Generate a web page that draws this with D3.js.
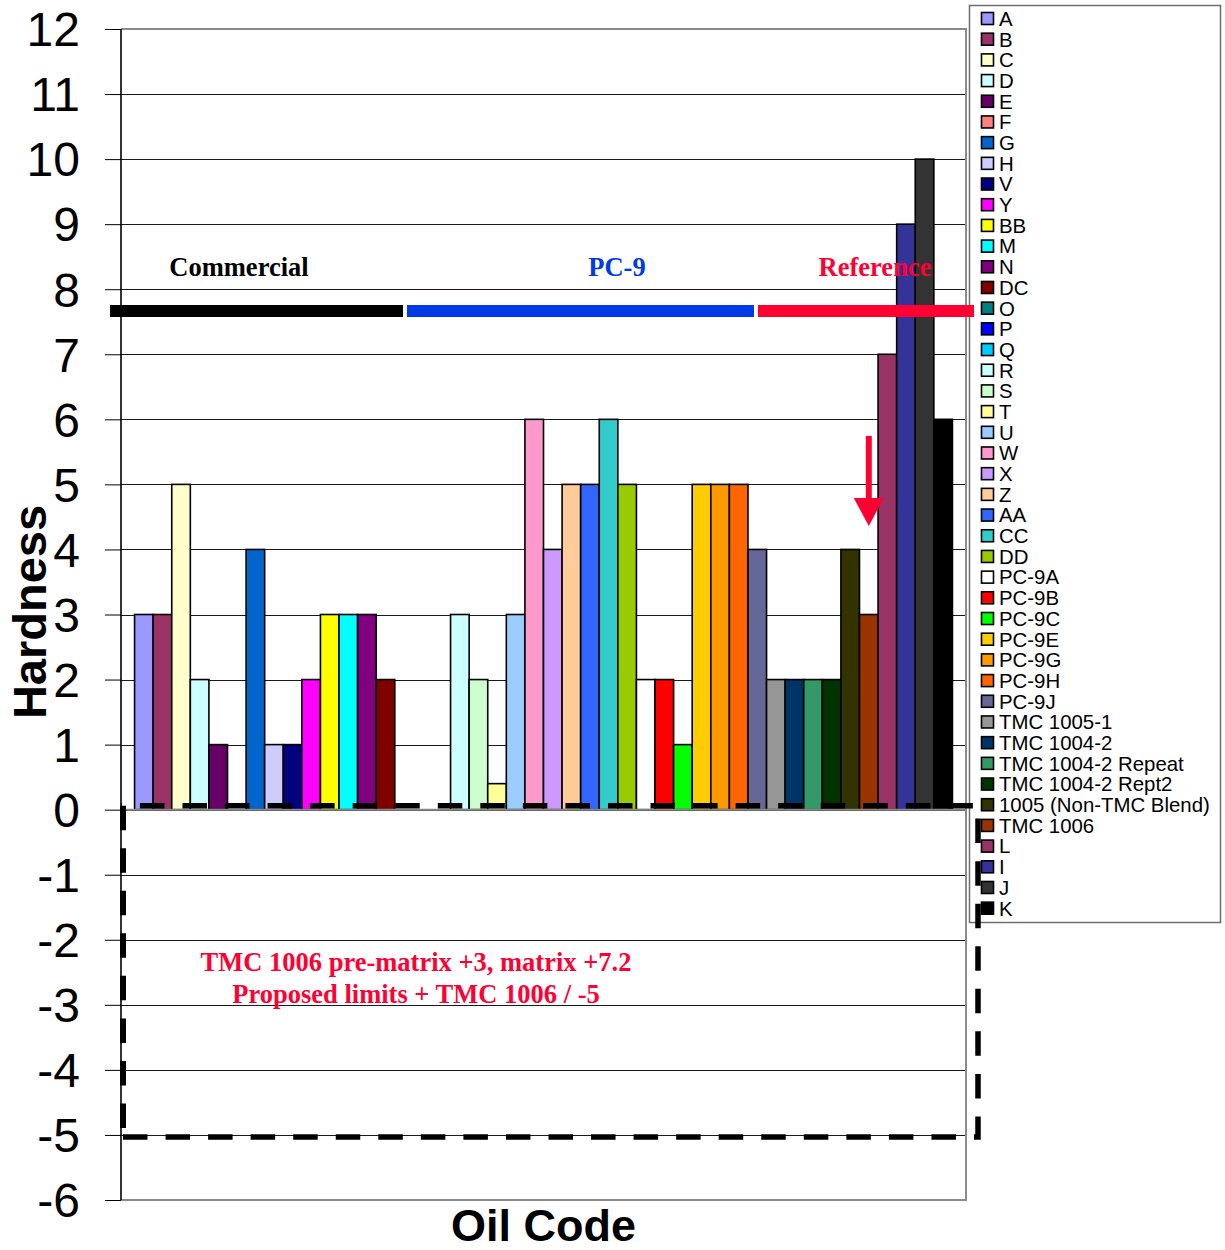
<!DOCTYPE html>
<html>
<head>
<meta charset="utf-8">
<script src="https://cdn.jsdelivr.net/npm/d3@7"></script>
<style>
  html, body { margin: 0; padding: 0; background: #fff; }
  svg { display: block; }
</style>
</head>
<body>
<svg id="chart" width="1225" height="1250"></svg>
<script>
// Oil codes, one bar each, in plotting order
const seriesNames = [
  "A", "B", "C", "D", "E", "F", "G", "H", "V", "Y", "BB", "M", "N", "DC",
  "O", "P", "Q", "R", "S", "T", "U", "W", "X", "Z", "AA", "CC", "DD",
  "PC-9A", "PC-9B", "PC-9C", "PC-9E", "PC-9G", "PC-9H", "PC-9J",
  "TMC 1005-1", "TMC 1004-2", "TMC 1004-2 Repeat", "TMC 1004-2 Rept2",
  "1005 (Non-TMC Blend)", "TMC 1006", "L", "I", "J", "K"
];

// Hardness for each oil code
const seriesValues = [
  3, 3, 5, 2, 1, 0, 4, 1, 1, 2, 3, 3, 3, 2,
  0, 0, 0, 3, 2, 0.4, 3, 6, 4, 5, 5, 6, 5,
  2, 2, 1, 5, 5, 5, 4,
  2, 2, 2, 2,
  4, 3, 7, 9, 10, 6
];

// Fill colour of each oil code
const seriesColors = [
  "#9999FF", "#993366", "#FFFFCC", "#CCFFFF", "#660066", "#FF8080", "#0066CC",
  "#CCCCFF", "#000080", "#FF00FF", "#FFFF00", "#00FFFF", "#800080", "#800000",
  "#008080", "#0000FF", "#00CCFF", "#CCFFFF", "#CCFFCC", "#FFFF99", "#99CCFF",
  "#FF99CC", "#CC99FF", "#FFCC99", "#3366FF", "#33CCCC", "#99CC00",
  "#FFFFFF", "#FF0000", "#00FF00", "#FFCC00", "#FF9900", "#FF6600", "#666699",
  "#969696", "#003366", "#339966", "#003300",
  "#333300", "#993300", "#993366", "#333399", "#333333", "#000000"
];

// Value-axis ticks
const yTicks = [-6, -5, -4, -3, -2, -1, 0, 1, 2, 3, 4, 5, 6, 7, 8, 9, 10, 11, 12];

// Group headings above the bars
const groupLabels = ["Commercial", "PC-9", "Reference"];
const groupColors = ["#000000", "#0039E6", "#FF0033"];

// Limit box and its notes
const limitLow = -5;
const limitHigh = 0;
const noteLines = [
  "TMC 1006 pre-matrix +3, matrix +7.2",
  "Proposed limits + TMC 1006 / -5"
];

const svg = d3.select("#chart");
const plot = { left: 121, right: 966, top: 29, bottom: 1200 };

const y = d3.scaleLinear()
  .domain([d3.min(yTicks), d3.max(yTicks)])
  .range([plot.bottom, plot.top]);

const x = d3.scaleBand()
  .domain(seriesNames)
  .range([plot.left, plot.right])
  .paddingInner(0)
  .paddingOuter(0.73);

const sans = "'Liberation Sans', Arial, Helvetica, sans-serif";
const serif = "'Liberation Serif', 'Times New Roman', Times, serif";

// horizontal gridlines
svg.append("g")
  .selectAll("line")
  .data(yTicks)
  .join("line")
  .attr("x1", plot.left).attr("x2", plot.right)
  .attr("y1", d => Math.round(y(d)) + 0.5)
  .attr("y2", d => Math.round(y(d)) + 0.5)
  .attr("stroke", "#1a1a1a")
  .attr("stroke-width", 1);

// plot-area border (top, right, bottom)
svg.append("path")
  .attr("d", `M${plot.left},${plot.top} H${plot.right} V${plot.bottom} H${plot.left}`)
  .attr("fill", "none")
  .attr("stroke", "#8a8a8a")
  .attr("stroke-width", 2);

// bars
const rows = seriesNames.map((name, i) => ({ name, value: seriesValues[i], color: seriesColors[i] }));
svg.append("g")
  .selectAll("rect")
  .data(rows.filter(d => d.value !== 0))
  .join("rect")
  .attr("x", d => x(d.name))
  .attr("width", x.bandwidth())
  .attr("y", d => y(Math.max(0, d.value)))
  .attr("height", d => Math.abs(y(d.value) - y(0)))
  .attr("fill", d => d.color)
  .attr("stroke", "#000")
  .attr("stroke-width", 1.6);

// category axis line at zero
svg.append("line")
  .attr("x1", plot.left).attr("x2", plot.right)
  .attr("y1", y(0)).attr("y2", y(0))
  .attr("stroke", "#8a8a8a")
  .attr("stroke-width", 2);

// value axis, plain hyphen for negatives
const yAxis = svg.append("g")
  .attr("transform", `translate(${plot.left},0)`)
  .call(d3.axisLeft(y).tickValues(yTicks).tickSize(16).tickPadding(25).tickFormat(d => String(d)));
yAxis.select(".domain")
  .attr("d", `M0,${plot.top}V${plot.bottom}`)
  .attr("stroke", "#000")
  .attr("stroke-width", 1.6);
yAxis.selectAll(".tick line").attr("stroke", "#000").attr("stroke-width", 1);
yAxis.selectAll(".tick text")
  .attr("font-family", sans)
  .attr("font-size", 48)
  .attr("fill", "#000")
  .attr("dy", "0.35em");

// axis titles
svg.append("text")
  .attr("transform", "translate(46,612) rotate(-90)")
  .attr("text-anchor", "middle")
  .attr("font-family", sans)
  .attr("font-weight", "bold")
  .attr("font-size", 47)
  .text("Hardness");

svg.append("text")
  .attr("x", (plot.left + plot.right) / 2)
  .attr("y", 1241)
  .attr("text-anchor", "middle")
  .attr("font-family", sans)
  .attr("font-weight", "bold")
  .attr("font-size", 45)
  .text("Oil Code");

// legend
const legend = svg.append("g");
legend.append("rect")
  .attr("x", 969.5).attr("y", 5.5)
  .attr("width", 251).attr("height", 917)
  .attr("fill", "#fff")
  .attr("stroke", "#6e6e6e")
  .attr("stroke-width", 1.5);
const step = 20.69;
const items = legend.selectAll("g.item")
  .data(rows)
  .join("g")
  .attr("class", "item")
  .attr("transform", (d, i) => `translate(0,${18.5 + i * step})`);
items.append("rect")
  .attr("x", 981.5).attr("y", -6)
  .attr("width", 12).attr("height", 12)
  .attr("fill", d => d.color)
  .attr("stroke", "#000")
  .attr("stroke-width", 1.6);
items.append("text")
  .attr("x", 999)
  .attr("y", 0)
  .attr("dy", "0.36em")
  .attr("font-family", sans)
  .attr("font-size", 20.4)
  .attr("fill", "#000")
  .text(d => d.name);

// group bands and headings
const bandY = 311;
const bands = [[110, 403], [407, 754], [758, 974]];
svg.append("g")
  .selectAll("line")
  .data(bands)
  .join("line")
  .attr("x1", d => d[0]).attr("x2", d => d[1])
  .attr("y1", bandY).attr("y2", bandY)
  .attr("stroke", (d, i) => groupColors[i])
  .attr("stroke-width", 12);

const labelX = [239, 617, 875];
svg.append("g")
  .selectAll("text")
  .data(groupLabels)
  .join("text")
  .attr("x", (d, i) => labelX[i])
  .attr("y", 276)
  .attr("text-anchor", "middle")
  .attr("font-family", serif)
  .attr("font-weight", "bold")
  .attr("font-size", 26.5)
  .attr("fill", (d, i) => groupColors[i])
  .text(d => d);

// arrow pointing at the TMC 1006 bar
const ax = x("TMC 1006") + x.bandwidth() / 2;
svg.append("line")
  .attr("x1", ax).attr("x2", ax)
  .attr("y1", 436).attr("y2", 500)
  .attr("stroke", "#FF0033")
  .attr("stroke-width", 6);
svg.append("path")
  .attr("d", `M${ax - 15},498 L${ax + 15},498 L${ax},526 Z`)
  .attr("fill", "#FF0033");

// limit box, dashed
const boxL = 123, boxR = 978;
const boxTop = y(limitHigh) - 4, boxBot = y(limitLow) + 2;
const dash = "24.5,18.05";
svg.append("path")
  .attr("d", `M${boxL},${boxTop} V${boxBot}`)
  .attr("fill", "none")
  .attr("stroke", "#000")
  .attr("stroke-width", 6)
  .attr("stroke-dasharray", dash);
svg.append("path")
  .attr("d", `M${boxL},${boxBot} H${boxR} V${boxTop} H${plot.left}`)
  .attr("fill", "none")
  .attr("stroke", "#000")
  .attr("stroke-width", 5.5)
  .attr("stroke-dasharray", dash);

// notes inside the limit box
svg.append("g")
  .selectAll("text")
  .data(noteLines)
  .join("text")
  .attr("x", 416)
  .attr("y", (d, i) => 971 + i * 31.5)
  .attr("text-anchor", "middle")
  .attr("font-family", serif)
  .attr("font-weight", "bold")
  .attr("font-size", 26.5)
  .attr("fill", "#FF0033")
  .text(d => d);
</script>
</body>
</html>
